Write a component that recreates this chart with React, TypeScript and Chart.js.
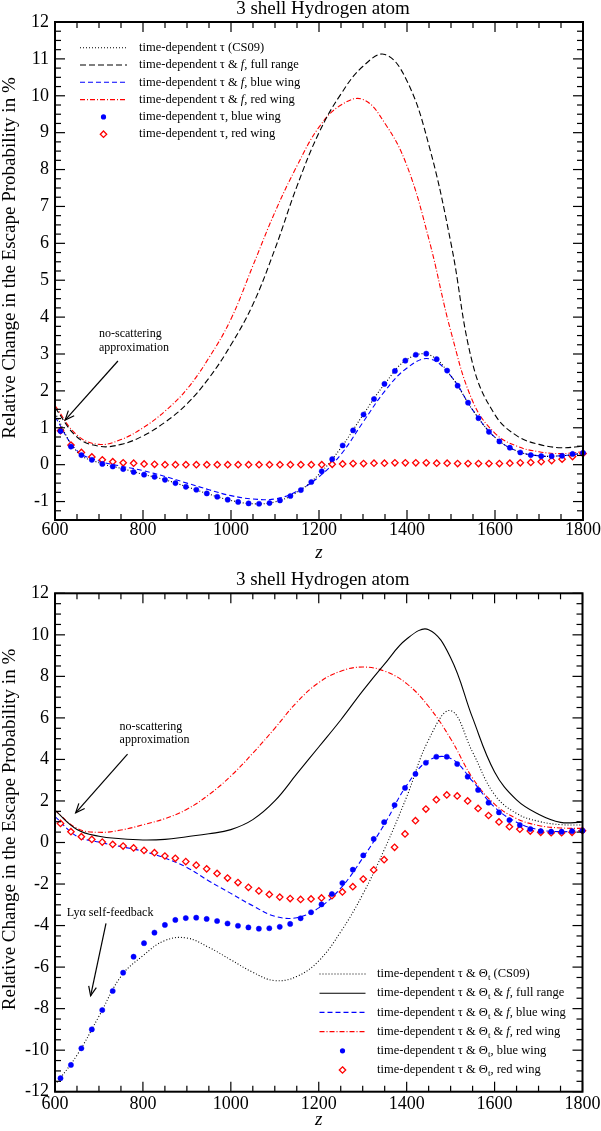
import React, { useEffect, useRef } from "react";
import { Chart, registerables } from "chart.js";

Chart.register(...registerables);

const FONT = "'Liberation Serif', 'Times New Roman', serif";

// z grid of the curves and of the marker series
const zLine = [600, 650, 700, 750, 800, 850, 900, 950, 1000, 1050, 1100, 1150, 1200, 1250, 1300, 1350, 1400, 1450, 1500, 1550, 1600, 1650, 1700, 1750, 1800];
const zMark = [612.5, 636.25, 660, 683.75, 707.5, 731.25, 755, 778.75, 802.5, 826.25, 850, 873.75, 897.5, 921.25, 945, 968.75, 992.5, 1016.25, 1040, 1063.75, 1087.5, 1111.25, 1135, 1158.75, 1182.5, 1206.25, 1230, 1253.75, 1277.5, 1301.25, 1325, 1348.75, 1372.5, 1396.25, 1420, 1443.75, 1467.5, 1491.25, 1515, 1538.75, 1562.5, 1586.25, 1610, 1633.75, 1657.5, 1681.25, 1705, 1728.75, 1752.5, 1776.25, 1800];

const xTicks = [600, 800, 1000, 1200, 1400, 1600, 1800];
const topYTicks = [-1, 0, 1, 2, 3, 4, 5, 6, 7, 8, 9, 10, 11, 12];
const botYTicks = [-12, -10, -8, -6, -4, -2, 0, 2, 4, 6, 8, 10, 12];

// upper panel
const topCs09 = [1.4, 0.35, 0.05, -0.1, -0.26, -0.41, -0.6, -0.8, -0.97, -1.06, -1.01, -0.75, -0.26, 0.46, 1.35, 2.2, 2.85, 2.98, 2.4, 1.47, 0.74, 0.37, 0.24, 0.24, 0.31];
const topFull = [1.55, 0.75, 0.5, 0.55, 0.78, 1.15, 1.65, 2.35, 3.25, 4.35, 5.85, 7.55, 9.0, 10.05, 10.8, 11.12, 10.4, 8.65, 6.0, 2.7, 1.35, 0.78, 0.55, 0.46, 0.5];
const topBlue = [1.3, 0.38, 0.1, -0.04, -0.16, -0.32, -0.5, -0.68, -0.84, -0.93, -0.93, -0.72, -0.33, 0.28, 1.15, 2.0, 2.62, 2.87, 2.4, 1.47, 0.74, 0.37, 0.24, 0.24, 0.31];
const topRed = [1.6, 0.8, 0.55, 0.68, 1.0, 1.45, 2.05, 2.9, 3.95, 5.4, 6.85, 8.1, 9.15, 9.75, 9.9, 9.25, 8.1, 6.1, 3.6, 1.7, 0.85, 0.5, 0.35, 0.3, 0.35];
const topBlueDots = [0.91, 0.49, 0.26, 0.13, 0.02, -0.05, -0.12, -0.2, -0.27, -0.33, -0.41, -0.5, -0.6, -0.68, -0.78, -0.87, -0.95, -1.01, -1.05, -1.06, -1.04, -0.97, -0.85, -0.69, -0.47, -0.18, 0.15, 0.52, 0.93, 1.36, 1.78, 2.19, 2.54, 2.82, 2.98, 3.01, 2.86, 2.55, 2.14, 1.68, 1.26, 0.89, 0.63, 0.46, 0.33, 0.26, 0.23, 0.23, 0.24, 0.29, 0.32];
const topRedDots = [0.92, 0.53, 0.33, 0.21, 0.13, 0.08, 0.05, 0.04, 0.02, 0.01, 0, 0, 0, 0, 0, 0, 0, 0, 0, 0, 0, 0, 0, 0, 0, 0, 0.01, 0.02, 0.03, 0.03, 0.04, 0.04, 0.05, 0.05, 0.05, 0.05, 0.04, 0.04, 0.03, 0.03, 0.03, 0.03, 0.03, 0.04, 0.05, 0.06, 0.08, 0.11, 0.15, 0.22, 0.3];

// lower panel
const botCs09 = [-11.68, -10.24, -8.37, -6.45, -5.45, -4.72, -4.6, -5.05, -5.65, -6.25, -6.65, -6.45, -5.7, -4.3, -2.5, -0.3, 2.2, 4.95, 6.35, 4.35, 2.3, 1.4, 1.02, 0.86, 0.84];
const botFull = [1.55, 0.63, 0.3, 0.18, 0.12, 0.15, 0.28, 0.42, 0.62, 1.1, 2.0, 3.3, 4.6, 5.9, 7.3, 8.6, 9.8, 10.25, 8.9, 6.0, 3.4, 2.05, 1.36, 0.97, 0.98];
const botBlue = [1.25, 0.3, 0.02, -0.2, -0.42, -0.75, -1.2, -1.85, -2.45, -3.05, -3.55, -3.62, -3.15, -2.2, -0.75, 0.9, 2.75, 3.95, 4.05, 2.95, 1.7, 0.98, 0.62, 0.52, 0.57];
const botRed = [1.55, 0.68, 0.49, 0.6, 0.85, 1.15, 1.6, 2.3, 3.2, 4.3, 5.5, 6.75, 7.7, 8.25, 8.45, 8.25, 7.65, 6.55, 5.0, 3.1, 1.85, 1.15, 0.82, 0.7, 0.68];
const botBlueDots = [-11.35, -10.71, -9.91, -9.0, -8.07, -7.15, -6.27, -5.5, -4.85, -4.34, -3.97, -3.73, -3.64, -3.62, -3.68, -3.78, -3.9, -4.01, -4.09, -4.15, -4.13, -4.06, -3.92, -3.65, -3.36, -2.98, -2.48, -1.95, -1.31, -0.62, 0.17, 0.98, 1.8, 2.63, 3.3, 3.84, 4.13, 4.13, 3.78, 3.17, 2.53, 1.92, 1.45, 1.08, 0.84, 0.65, 0.55, 0.52, 0.52, 0.55, 0.57];
const botRedDots = [0.92, 0.52, 0.28, 0.15, 0.02, -0.09, -0.17, -0.26, -0.38, -0.49, -0.65, -0.76, -0.92, -1.09, -1.27, -1.49, -1.71, -1.93, -2.16, -2.33, -2.5, -2.63, -2.7, -2.74, -2.72, -2.67, -2.56, -2.38, -2.13, -1.76, -1.32, -0.83, -0.23, 0.41, 1.05, 1.61, 2.06, 2.29, 2.24, 2.0, 1.64, 1.3, 0.99, 0.76, 0.64, 0.55, 0.49, 0.47, 0.47, 0.49, 0.57];

const BLUE = "#0000ff";
const RED = "#ff0000";
const DOT = [1, 2];
const DASH = [6, 3];
const BDASH = [5, 3];
const DASHDOT = [5, 2, 1, 2];

type Part = { t: string; i?: boolean; sub?: boolean };
type Row = { parts: Part[]; kind: "line" | "circle" | "diamond"; color: string; dash?: number[] };
type Note = { lines: string[][]; z: number; v: number; step: number };
type Arrow = { z1: number; v1: number; z2: number; v2: number };

const tau = (rest: Part[]): Part[] => [{ t: "time-dependent τ" }, ...rest];
const theta = (rest: Part[]): Part[] => [{ t: "time-dependent τ & Θ" }, { t: "t", sub: true }, ...rest];

const topRows: Row[] = [
  { parts: tau([{ t: " (CS09)" }]), kind: "line", color: "#000", dash: DOT },
  { parts: tau([{ t: " & " }, { t: "f", i: true }, { t: ", full range" }]), kind: "line", color: "#000", dash: DASH },
  { parts: tau([{ t: " & " }, { t: "f", i: true }, { t: ", blue wing" }]), kind: "line", color: BLUE, dash: BDASH },
  { parts: tau([{ t: " & " }, { t: "f", i: true }, { t: ", red wing" }]), kind: "line", color: RED, dash: DASHDOT },
  { parts: tau([{ t: ", blue wing" }]), kind: "circle", color: BLUE },
  { parts: tau([{ t: ", red wing" }]), kind: "diamond", color: RED },
];
const botRows: Row[] = [
  { parts: theta([{ t: " (CS09)" }]), kind: "line", color: "#000", dash: DOT },
  { parts: theta([{ t: " & " }, { t: "f", i: true }, { t: ", full range" }]), kind: "line", color: "#000", dash: [] },
  { parts: theta([{ t: " & " }, { t: "f", i: true }, { t: ", blue wing" }]), kind: "line", color: BLUE, dash: BDASH },
  { parts: theta([{ t: " & " }, { t: "f", i: true }, { t: ", red wing" }]), kind: "line", color: RED, dash: DASHDOT },
  { parts: theta([{ t: ", blue wing" }]), kind: "circle", color: BLUE },
  { parts: theta([{ t: ", red wing" }]), kind: "diamond", color: RED },
];

type Spec = {
  height: number;
  padding: { left: number; right: number; top: number; bottom: number };
  yMin: number; yMax: number; yTicks: number[]; yMajor: number; yMinor: number;
  lines: { ys: number[]; color: string; dash: number[] }[];
  blueDots: number[]; redDots: number[];
  rows: Row[]; legendAt: "topLeft" | "bottomRight";
  notes: Note[]; arrows: Arrow[];
  xLabelOff: number; xTitleOff: number;
};

const drawRich = (ctx: CanvasRenderingContext2D, parts: Part[], x: number, y: number, size: number) => {
  let cx = x;
  for (const p of parts) {
    const s = p.sub ? size * 0.72 : size;
    ctx.font = `${p.i ? "italic " : ""}${s}px ${FONT}`;
    ctx.fillText(p.t, cx, p.sub ? y + size * 0.3 : y);
    cx += ctx.measureText(p.t).width;
  }
};

const diamond = (ctx: CanvasRenderingContext2D, x: number, y: number, r: number) => {
  ctx.beginPath();
  ctx.moveTo(x, y - r); ctx.lineTo(x + r, y); ctx.lineTo(x, y + r); ctx.lineTo(x - r, y); ctx.closePath();
};

const panelPlugin = (s: Spec) => ({
  id: "panelDecor",
  afterDraw(chart: any) {
    const { ctx, chartArea: ca, scales } = chart;
    const xs = scales.x, ys = scales.y;
    const seg = (a: number, b: number, c: number, d: number) => { ctx.beginPath(); ctx.moveTo(a, b); ctx.lineTo(c, d); ctx.stroke(); };
    ctx.save();
    ctx.strokeStyle = "#000";
    ctx.fillStyle = "#000";
    ctx.setLineDash([]);

    // ticks, inward on all four sides
    ctx.lineWidth = 1.2;
    for (let k = 0; k <= 24; k++) {
      const v = 600 + k * 50;
      const px = xs.getPixelForValue(v);
      const len = v % 200 === 0 ? 10 : 6;
      seg(px, ca.bottom, px, ca.bottom - len);
      seg(px, ca.top, px, ca.top + len);
    }
    const n = Math.round((s.yMax - s.yMin) / s.yMinor);
    for (let k = 0; k <= n; k++) {
      const v = s.yMin + k * s.yMinor;
      const py = ys.getPixelForValue(v);
      const major = Math.abs(v / s.yMajor - Math.round(v / s.yMajor)) < 1e-6;
      const len = major ? 10 : 6;
      seg(ca.left, py, ca.left + len, py);
      seg(ca.right, py, ca.right - len, py);
    }
    ctx.lineWidth = 2;
    ctx.strokeRect(ca.left, ca.top, ca.right - ca.left, ca.bottom - ca.top);

    // tick labels
    ctx.font = `18px ${FONT}`;
    ctx.textBaseline = "middle";
    ctx.textAlign = "center";
    xTicks.forEach((v) => ctx.fillText(String(v), xs.getPixelForValue(v), ca.bottom + s.xLabelOff));
    ctx.textAlign = "right";
    s.yTicks.forEach((v) => ctx.fillText(String(v), ca.left - 6, ys.getPixelForValue(v)));

    // titles
    ctx.textBaseline = "alphabetic";
    ctx.textAlign = "center";
    ctx.font = `19px ${FONT}`;
    const midX = (ca.left + ca.right) / 2;
    ctx.fillText("3 shell Hydrogen atom", midX + 4, ca.top - 8);
    ctx.font = `italic 19px ${FONT}`;
    ctx.fillText("z", midX, ca.bottom + s.xTitleOff);
    ctx.save();
    ctx.translate(15, (ca.top + ca.bottom) / 2 - 13);
    ctx.rotate(-Math.PI / 2);
    ctx.font = `19px ${FONT}`;
    ctx.fillText("Relative Change in the Escape Probability in %", 0, 0);
    ctx.restore();

    // legend
    ctx.textAlign = "left";
    ctx.textBaseline = "middle";
    s.rows.forEach((r, i) => {
      let x0: number, x1: number, xt: number, y: number;
      if (s.legendAt === "topLeft") {
        x0 = ca.left + 25; x1 = ca.left + 72; xt = ca.left + 84; y = ca.top + 25.7 + 17.3 * i;
      } else {
        x0 = ca.right - 263; x1 = ca.right - 217; xt = ca.right - 205.5; y = ca.bottom - 117.7 + 19.2 * i;
      }
      const xm = (x0 + x1) / 2;
      if (r.kind === "line") {
        ctx.strokeStyle = r.color; ctx.lineWidth = 1.1; ctx.setLineDash(r.dash || []);
        seg(x0, y, x1, y);
        ctx.setLineDash([]);
      } else if (r.kind === "circle") {
        ctx.fillStyle = r.color; ctx.beginPath(); ctx.arc(xm, y, 2.6, 0, Math.PI * 2); ctx.fill();
      } else {
        ctx.strokeStyle = r.color; ctx.lineWidth = 1.3; diamond(ctx, xm, y, 3.2); ctx.stroke();
      }
      ctx.fillStyle = "#000";
      drawRich(ctx, r.parts, xt, y, 12.5);
    });

    // annotations
    ctx.fillStyle = "#000";
    ctx.font = `12px ${FONT}`;
    s.notes.forEach((nt) => {
      nt.lines.forEach((ln, j) => {
        const px = xs.getPixelForValue(nt.z);
        const py = ys.getPixelForValue(nt.v - j * nt.step);
        ctx.font = `12px ${FONT}`;
        drawRich(ctx, ln.map((t) => ({ t })), px, py, 12);
      });
    });
    ctx.strokeStyle = "#000";
    ctx.lineWidth = 1.2;
    s.arrows.forEach((a) => {
      const x1 = xs.getPixelForValue(a.z1), y1 = ys.getPixelForValue(a.v1);
      const x2 = xs.getPixelForValue(a.z2), y2 = ys.getPixelForValue(a.v2);
      seg(x1, y1, x2, y2);
      const ang = Math.atan2(y2 - y1, x2 - x1);
      const h = 10, w = 0.4;
      ctx.beginPath();
      ctx.moveTo(x2 - h * Math.cos(ang - w), y2 - h * Math.sin(ang - w));
      ctx.lineTo(x2, y2);
      ctx.lineTo(x2 - h * Math.cos(ang + w), y2 - h * Math.sin(ang + w));
      ctx.stroke();
    });
    ctx.restore();
  },
});

const Panel = ({ spec }: { spec: Spec }) => {
  const canvasRef = useRef<HTMLCanvasElement | null>(null);
  useEffect(() => {
    const ctx = canvasRef.current?.getContext("2d");
    if (!ctx) return;
    const markSet = (ysArr: number[], color: string, round: boolean) => ({
      data: zMark.map((x, i) => ({ x, y: ysArr[i] })),
      showLine: false,
      pointStyle: round ? "circle" : "rectRot",
      pointRadius: round ? 2.6 : 3.2,
      pointBackgroundColor: round ? color : "#ffffff",
      pointBorderColor: color,
      pointBorderWidth: round ? 0.5 : 1.3,
      clip: false,
    });
    const lineSet = (ysArr: number[], color: string, dash: number[]) => ({
      data: zLine.map((x, i) => ({ x, y: ysArr[i] })),
      showLine: true,
      borderColor: color,
      borderDash: dash,
      borderWidth: 1.1,
      pointRadius: 0,
      tension: 0.4,
      fill: false,
    });
    const chart = new Chart(ctx, {
      type: "scatter",
      data: {
        datasets: [
          markSet(spec.blueDots, BLUE, true),
          markSet(spec.redDots, RED, false),
          ...spec.lines.map((l) => lineSet(l.ys, l.color, l.dash)),
        ] as any,
      },
      options: {
        animation: false,
        responsive: false,
        events: [],
        layout: { padding: spec.padding },
        plugins: { legend: { display: false }, tooltip: { enabled: false } },
        scales: {
          x: { type: "linear", min: 600, max: 1800, display: false },
          y: { type: "linear", min: spec.yMin, max: spec.yMax, display: false },
        },
      },
      plugins: [panelPlugin(spec)],
    });
    return () => {
      chart.destroy();
    };
  }, [spec]);
  return <canvas ref={canvasRef} width={601} height={spec.height} style={{ display: "block" }} />;
};

const topSpec: Spec = {
  height: 566,
  padding: { left: 55, right: 18, top: 22, bottom: 46 },
  yMin: -1.5, yMax: 12, yTicks: topYTicks, yMajor: 1, yMinor: 0.25,
  lines: [
    { ys: topCs09, color: "#000", dash: DOT },
    { ys: topFull, color: "#000", dash: DASH },
    { ys: topBlue, color: BLUE, dash: BDASH },
    { ys: topRed, color: RED, dash: DASHDOT },
  ],
  blueDots: topBlueDots, redDots: topRedDots,
  rows: topRows, legendAt: "topLeft",
  notes: [{ lines: [["no-scattering"], ["approximation"]], z: 700, v: 3.54, step: 0.36 }],
  arrows: [{ z1: 743, v1: 2.81, z2: 623, v2: 1.21 }],
  xLabelOff: 10, xTitleOff: 38,
};

const botSpec: Spec = {
  height: 565,
  padding: { left: 55, right: 18.5, top: 27.3, bottom: 39.3 },
  yMin: -12, yMax: 12, yTicks: botYTicks, yMajor: 2, yMinor: 0.5,
  lines: [
    { ys: botCs09, color: "#000", dash: DOT },
    { ys: botFull, color: "#000", dash: [] },
    { ys: botBlue, color: BLUE, dash: BDASH },
    { ys: botRed, color: RED, dash: DASHDOT },
  ],
  blueDots: botBlueDots, redDots: botRedDots,
  rows: botRows, legendAt: "bottomRight",
  notes: [
    { lines: [["no-scattering"], ["approximation"]], z: 747, v: 5.58, step: 0.65 },
    { lines: [["Lyα self-feedback"]], z: 627, v: -3.38, step: 0 },
  ],
  arrows: [
    { z1: 765, v1: 4.26, z2: 647, v2: 1.43 },
    { z1: 716, v1: -3.89, z2: 681, v2: -7.38 },
  ],
  xLabelOff: 13, xTitleOff: 33,
};

const App = () => {
  useEffect(() => {
    document.body.style.margin = "0";
  }, []);
  return (
    <div style={{ width: 601, background: "#fff" }}>
      <Panel spec={topSpec} />
      <Panel spec={botSpec} />
    </div>
  );
};

export default App;
